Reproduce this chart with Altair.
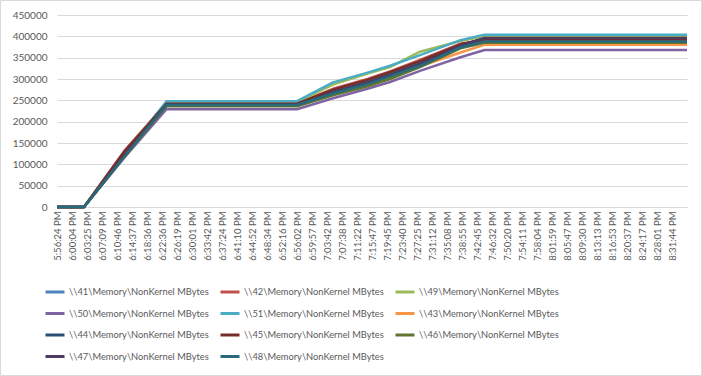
import altair as alt
import pandas as pd

# x positions (index in time-label units) and time labels
time_labels = ["5:56:24 PM", "6:00:04 PM", "6:03:25 PM", "6:07:09 PM", "6:10:46 PM", "6:14:37 PM",
               "6:18:36 PM", "6:22:36 PM", "6:26:19 PM", "6:30:01 PM", "6:33:42 PM", "6:37:24 PM",
               "6:41:10 PM", "6:44:52 PM", "6:48:34 PM", "6:52:16 PM", "6:56:02 PM", "6:59:57 PM",
               "7:03:42 PM", "7:07:38 PM", "7:11:22 PM", "7:15:47 PM", "7:19:45 PM", "7:23:40 PM",
               "7:27:25 PM", "7:31:12 PM", "7:35:08 PM", "7:38:55 PM", "7:42:45 PM", "7:46:32 PM",
               "7:50:20 PM", "7:54:11 PM", "7:58:04 PM", "8:01:59 PM", "8:05:47 PM", "8:09:30 PM",
               "8:13:13 PM", "8:16:53 PM", "8:20:37 PM", "8:24:17 PM", "8:28:01 PM", "8:31:44 PM"]

x_idx = [0, 1.8, 4.5, 7.3, 16, 18.4, 20.7, 22.2, 24.2, 26.9, 28.5, 42]

s41 = [0, 0, 124000, 244000, 244000, 272000, 294000, 312000, 338000, 378000, 391000, 391000]
s42 = [0, 0, 132000, 243000, 243000, 277000, 300000, 318000, 345000, 383000, 390000, 390000]
s49 = [0, 0, 128000, 246000, 246000, 287000, 313000, 328000, 364000, 389000, 400000, 400000]
s50 = [0, 0, 116000, 229000, 229000, 255000, 277000, 293000, 319000, 351000, 368000, 368000]
s51 = [0, 0, 122000, 248000, 248000, 292000, 315000, 331000, 356000, 391000, 404000, 404000]
s43 = [0, 0, 126000, 238000, 238000, 265000, 286000, 303000, 330000, 362000, 380000, 380000]
s44 = [0, 0, 123000, 241000, 241000, 270000, 292000, 310000, 336000, 380000, 395000, 395000]
s45 = [0, 0, 130000, 242000, 242000, 275000, 298000, 316000, 342000, 381000, 393000, 393000]
s46 = [0, 0, 118000, 236000, 236000, 262000, 283000, 300000, 328000, 372000, 385000, 385000]
s47 = [0, 0, 121000, 240000, 240000, 268000, 290000, 308000, 334000, 378000, 396000, 396000]
s48 = [0, 0, 119000, 239000, 239000, 266000, 288000, 306000, 331000, 374000, 388000, 388000]

series_names = ["\\\\41\\Memory\\NonKernel MBytes", "\\\\42\\Memory\\NonKernel MBytes",
                "\\\\49\\Memory\\NonKernel MBytes", "\\\\50\\Memory\\NonKernel MBytes",
                "\\\\51\\Memory\\NonKernel MBytes", "\\\\43\\Memory\\NonKernel MBytes",
                "\\\\44\\Memory\\NonKernel MBytes", "\\\\45\\Memory\\NonKernel MBytes",
                "\\\\46\\Memory\\NonKernel MBytes", "\\\\47\\Memory\\NonKernel MBytes",
                "\\\\48\\Memory\\NonKernel MBytes"]
series_values = [s41, s42, s49, s50, s51, s43, s44, s45, s46, s47, s48]
series_colors = ["#4F81BD", "#C0504D", "#9BBB59", "#8064A2", "#4BACC6", "#F79646",
                 "#2C4D75", "#772C2A", "#5F7530", "#4D3B62", "#276A7C"]

rows = []
for name, vals in zip(series_names, series_values):
    for i, (x, v) in enumerate(zip(x_idx, vals)):
        rows.append({"series": name, "x": x, "value": v, "order": i})
df = pd.DataFrame(rows)

label_expr = "[" + ",".join("'" + t + "'" for t in time_labels) + "][datum.value]"

W, H = 630, 192
PL, PT = 57, 15

lines = alt.Chart(df).mark_line(strokeWidth=2.5, strokeJoin="round").encode(
    x=alt.X("x:Q", scale=alt.Scale(domain=[0, 42], nice=False, zero=False),
            axis=alt.Axis(values=list(range(len(time_labels))), labelExpr=label_expr, title=None,
                          labelAngle=270, labelAlign="right", labelBaseline="middle",
                          labelFontSize=9.5, labelColor="#595959", labelFont="Lato",
                          labelPadding=4, ticks=False, grid=False, domainColor="#d9d9d9",
                          labelOverlap=False, labelFlush=False)),
    y=alt.Y("value:Q", scale=alt.Scale(domain=[0, 450000], nice=False),
            axis=alt.Axis(values=list(range(0, 450001, 50000)), format="d", title=None,
                          labelFontSize=10, labelColor="#595959", labelFont="Lato",
                          labelPadding=10, ticks=False, domain=False, gridColor="#d9d9d9")),
    color=alt.Color("series:N", scale=alt.Scale(domain=series_names, range=series_colors),
                    legend=alt.Legend(title=None, orient="none", legendX=-13, legendY=266,
                                      direction="horizontal",
                                      columns=3, symbolType="stroke", symbolSize=361,
                                      symbolStrokeWidth=3, labelFontSize=9.3,
                                      labelFont="Lato",
                                      labelColor="#595959", labelOffset=3, columnPadding=5,
                                      rowPadding=4.5, labelLimit=200)),
    order="order:Q",
)

border = alt.Chart(pd.DataFrame({"a": [0]})).mark_rect(fill=None, stroke="#d9d9d9", strokeWidth=1).encode(
    x=alt.value(-PL + 0.5), x2=alt.value(702 - PL - 0.5),
    y=alt.value(-PT + 0.5), y2=alt.value(376 - PT - 0.5),
)

chart = alt.layer(border, lines).properties(
    width=W, height=H,
    autosize=alt.AutoSizeParams(type="none"),
    padding={"left": PL, "top": PT, "right": 702 - PL - W, "bottom": 376 - PT - H},
    background="white",
).configure_view(stroke=None)

chart.save("out.html", embed_options={"renderer": "svg", "actions": False})
